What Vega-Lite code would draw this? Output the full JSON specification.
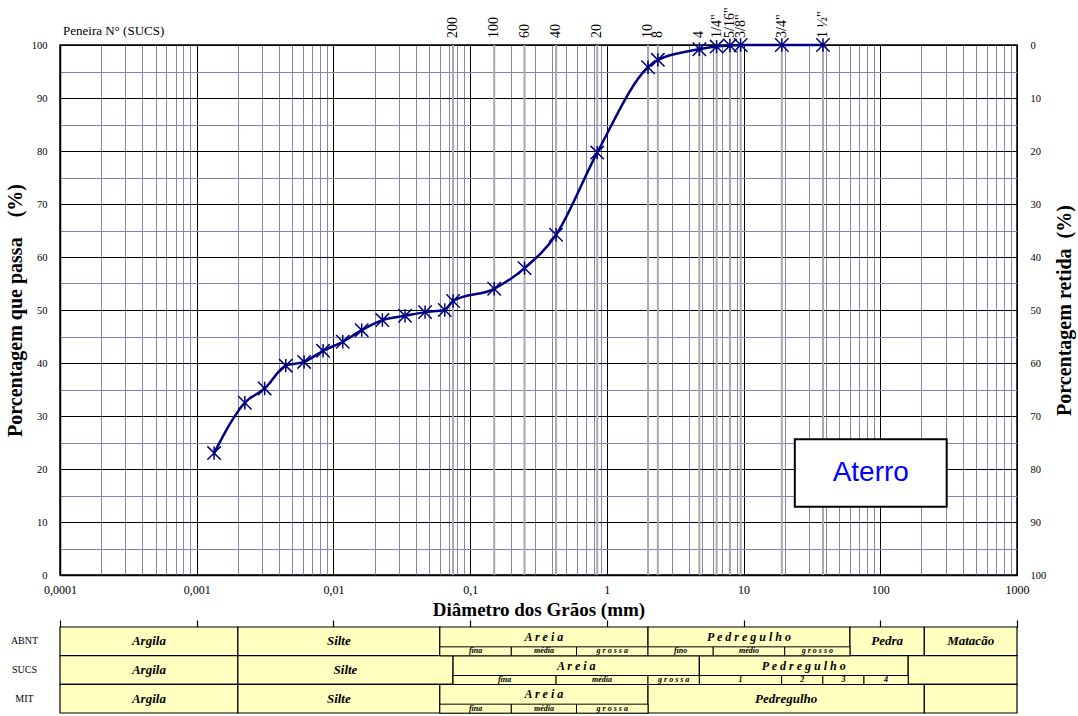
{
  "$schema": "https://vega.github.io/schema/vega-lite/v6.json",
  "background": "white",
  "padding": {"left": 4, "top": 6, "right": 2, "bottom": 2},
  "config": {
    "font": "Liberation Serif",
    "view": {"stroke": null},
    "axis": {"labelFont": "Liberation Serif", "titleFont": "Liberation Serif", "labelColor": "black", "titleColor": "black"}
  },
  "datasets": {
    "ensaio": [
      {"diametro_mm": 0.00134, "passa_pct": 23.0},
      {"diametro_mm": 0.00225, "passa_pct": 32.5},
      {"diametro_mm": 0.00314, "passa_pct": 35.2},
      {"diametro_mm": 0.00448, "passa_pct": 39.5},
      {"diametro_mm": 0.0061, "passa_pct": 40.2},
      {"diametro_mm": 0.0084, "passa_pct": 42.3},
      {"diametro_mm": 0.0117, "passa_pct": 44.0},
      {"diametro_mm": 0.0161, "passa_pct": 46.2},
      {"diametro_mm": 0.0228, "passa_pct": 48.1},
      {"diametro_mm": 0.0334, "passa_pct": 48.9},
      {"diametro_mm": 0.0468, "passa_pct": 49.6},
      {"diametro_mm": 0.0652, "passa_pct": 50.0},
      {"diametro_mm": 0.075, "passa_pct": 51.7},
      {"diametro_mm": 0.15, "passa_pct": 54.0},
      {"diametro_mm": 0.25, "passa_pct": 57.9},
      {"diametro_mm": 0.425, "passa_pct": 64.2},
      {"diametro_mm": 0.85, "passa_pct": 79.7},
      {"diametro_mm": 2.0, "passa_pct": 95.8},
      {"diametro_mm": 2.36, "passa_pct": 97.2},
      {"diametro_mm": 4.75, "passa_pct": 99.2},
      {"diametro_mm": 6.35, "passa_pct": 99.7},
      {"diametro_mm": 7.94, "passa_pct": 99.9},
      {"diametro_mm": 9.52, "passa_pct": 100},
      {"diametro_mm": 19.05, "passa_pct": 100},
      {"diametro_mm": 38.1, "passa_pct": 100}
    ],
    "peneiras": [
      {"peneira": "200", "abertura_mm": 0.075},
      {"peneira": "100", "abertura_mm": 0.15},
      {"peneira": "60", "abertura_mm": 0.25},
      {"peneira": "40", "abertura_mm": 0.425},
      {"peneira": "20", "abertura_mm": 0.85},
      {"peneira": "10", "abertura_mm": 2.0},
      {"peneira": "8", "abertura_mm": 2.36},
      {"peneira": "4", "abertura_mm": 4.75},
      {"peneira": "1/4\"", "abertura_mm": 6.35},
      {"peneira": "5/16\"", "abertura_mm": 7.94},
      {"peneira": "3/8\"", "abertura_mm": 9.52},
      {"peneira": "3/4\"", "abertura_mm": 19.05},
      {"peneira": "1 ½\"", "abertura_mm": 38.1}
    ],
    "classes": [
      {"sistema": "ABNT", "nivel": "classe", "nome": "Argila", "de": 0.0001, "ate": 0.002, "dividida": false},
      {"sistema": "ABNT", "nivel": "classe", "nome": "Silte", "de": 0.002, "ate": 0.06, "dividida": false},
      {"sistema": "ABNT", "nivel": "classe", "nome": "A r e i a", "de": 0.06, "ate": 2, "dividida": true},
      {"sistema": "ABNT", "nivel": "classe", "nome": "P e d r e g u l h o", "de": 2, "ate": 60, "dividida": true},
      {"sistema": "ABNT", "nivel": "classe", "nome": "Pedra", "de": 60, "ate": 210, "dividida": false},
      {"sistema": "ABNT", "nivel": "classe", "nome": "Matacão", "de": 210, "ate": 1000, "dividida": false},
      {"sistema": "ABNT", "nivel": "sub", "nome": "fina", "de": 0.06, "ate": 0.2},
      {"sistema": "ABNT", "nivel": "sub", "nome": "média", "de": 0.2, "ate": 0.6},
      {"sistema": "ABNT", "nivel": "sub", "nome": "g r o s s a", "de": 0.6, "ate": 2},
      {"sistema": "ABNT", "nivel": "sub", "nome": "fino", "de": 2, "ate": 6},
      {"sistema": "ABNT", "nivel": "sub", "nome": "médio", "de": 6, "ate": 20},
      {"sistema": "ABNT", "nivel": "sub", "nome": "g r o s s o", "de": 20, "ate": 60},
      {"sistema": "SUCS", "nivel": "classe", "nome": "Argila", "de": 0.0001, "ate": 0.002, "dividida": false},
      {"sistema": "SUCS", "nivel": "classe", "nome": "Silte", "de": 0.002, "ate": 0.075, "dividida": false},
      {"sistema": "SUCS", "nivel": "classe", "nome": "A r e i a", "de": 0.075, "ate": 4.75, "dividida": true},
      {"sistema": "SUCS", "nivel": "classe", "nome": "P e d r e g u l h o", "de": 4.75, "ate": 160, "dividida": true},
      {"sistema": "SUCS", "nivel": "classe", "nome": "", "de": 160, "ate": 1000, "dividida": false},
      {"sistema": "SUCS", "nivel": "sub", "nome": "fina", "de": 0.075, "ate": 0.425},
      {"sistema": "SUCS", "nivel": "sub", "nome": "média", "de": 0.425, "ate": 2},
      {"sistema": "SUCS", "nivel": "sub", "nome": "g r o s s a", "de": 2, "ate": 4.75},
      {"sistema": "SUCS", "nivel": "sub", "nome": "1", "de": 4.75, "ate": 19},
      {"sistema": "SUCS", "nivel": "sub", "nome": "2", "de": 19, "ate": 38},
      {"sistema": "SUCS", "nivel": "sub", "nome": "3", "de": 38, "ate": 76},
      {"sistema": "SUCS", "nivel": "sub", "nome": "4", "de": 76, "ate": 160},
      {"sistema": "MIT", "nivel": "classe", "nome": "Argila", "de": 0.0001, "ate": 0.002, "dividida": false},
      {"sistema": "MIT", "nivel": "classe", "nome": "Silte", "de": 0.002, "ate": 0.06, "dividida": false},
      {"sistema": "MIT", "nivel": "classe", "nome": "A r e i a", "de": 0.06, "ate": 2, "dividida": true},
      {"sistema": "MIT", "nivel": "classe", "nome": "Pedregulho", "de": 2, "ate": 210, "dividida": false},
      {"sistema": "MIT", "nivel": "classe", "nome": "", "de": 210, "ate": 1000, "dividida": false},
      {"sistema": "MIT", "nivel": "sub", "nome": "fina", "de": 0.06, "ate": 0.2},
      {"sistema": "MIT", "nivel": "sub", "nome": "média", "de": 0.2, "ate": 0.6},
      {"sistema": "MIT", "nivel": "sub", "nome": "g r o s s a", "de": 0.6, "ate": 2}
    ]
  },
  "bounds": "flush",
  "spacing": 52,
  "resolve": {"scale": {"x": "independent", "y": "independent"}},
  "vconcat": [
    {
      "width": 957,
      "height": 530,
      "view": {"stroke": "black", "strokeWidth": 1.5},
      "resolve": {"scale": {"y": "independent"}},
      "layer": [
        {
          "data": {"name": "peneiras"},
          "mark": {"type": "rule", "color": "#a9a9a9", "strokeWidth": 2},
          "encoding": {
            "x": {
              "field": "abertura_mm", "type": "quantitative",
              "scale": {"type": "log", "domain": [0.0001, 1000], "nice": false},
              "axis": {
                "orient": "bottom",
                "title": "Diâmetro dos Grãos (mm)",
                "titleFontSize": 19, "titleFontWeight": "bold", "titlePadding": 5,
                "values": [0.0001, 0.0002, 0.0003, 0.0004, 0.0005, 0.0006, 0.0007, 0.0008, 0.0009,
                           0.001, 0.002, 0.003, 0.004, 0.005, 0.006, 0.007, 0.008, 0.009,
                           0.01, 0.02, 0.03, 0.04, 0.05, 0.06, 0.07, 0.08, 0.09,
                           0.1, 0.2, 0.3, 0.4, 0.5, 0.6, 0.7, 0.8, 0.9,
                           1, 2, 3, 4, 5, 6, 7, 8, 9,
                           10, 20, 30, 40, 50, 60, 70, 80, 90,
                           100, 200, 300, 400, 500, 600, 700, 800, 900, 1000],
                "labelExpr": "indexof([0.0001, 0.001, 0.01, 0.1, 1, 10, 100, 1000], datum.value) >= 0 ? replace(toString(datum.value), '.', ',') : ''",
                "labelOverlap": false, "labelFlush": false,
                "labelFontSize": 12, "labelPadding": 9,
                "ticks": false, "tickSize": 0,
                "domain": true, "domainColor": "black", "domainWidth": 1.5,
                "grid": true, "gridWidth": 1,
                "gridColor": {"condition": {"test": "indexof([0.0001, 0.001, 0.01, 0.1, 1, 10, 100, 1000], datum.value) >= 0", "value": "#000000"}, "value": "#8585b8"}
              }
            }
          }
        },
        {
          "data": {"name": "ensaio"},
          "mark": {"type": "line", "color": "#000080", "strokeWidth": 2.5, "interpolate": "monotone"},
          "encoding": {
            "x": {"field": "diametro_mm", "type": "quantitative"},
            "y": {
              "field": "passa_pct", "type": "quantitative",
              "scale": {"domain": [0, 100], "nice": false},
              "axis": {
                "orient": "left",
                "title": "Porcentagem que passa\u00a0\u00a0\u00a0\u00a0(%)",
                "titleFontSize": 20, "titleFontWeight": "bold", "titlePadding": 6,
                "values": [0, 5, 10, 15, 20, 25, 30, 35, 40, 45, 50, 55, 60, 65, 70, 75, 80, 85, 90, 95, 100],
                "labelExpr": "datum.value % 10 === 0 ? datum.label : ''",
                "labelFontSize": 10.5, "labelPadding": 13,
                "ticks": false, "tickSize": 0,
                "domain": true, "domainColor": "black", "domainWidth": 1.5,
                "grid": true, "gridWidth": 1,
                "gridColor": {"condition": {"test": "datum.value % 10 === 0", "value": "#000000"}, "value": "#8585b8"}
              }
            }
          }
        },
        {
          "data": {"name": "ensaio"},
          "mark": {"type": "point", "shape": "M-1,-1L1,1M1,-1L-1,1M0,-1L0,1", "filled": false, "stroke": "#000080", "strokeWidth": 1.5, "size": 180, "opacity": 1},
          "encoding": {
            "x": {"field": "diametro_mm", "type": "quantitative"},
            "y": {"field": "passa_pct", "type": "quantitative", "scale": {"domain": [0, 100], "nice": false}, "axis": null}
          }
        },
        {
          "data": {"name": "peneiras"},
          "mark": {"type": "text", "angle": 270, "align": "left", "baseline": "middle", "dx": 7, "fontSize": 14, "font": "Liberation Serif", "color": "black"},
          "encoding": {
            "x": {"field": "abertura_mm", "type": "quantitative"},
            "y": {"datum": 100, "type": "quantitative", "scale": {"domain": [0, 100], "nice": false}, "axis": null},
            "text": {"field": "peneira"}
          }
        },
        {
          "data": {"values": [{}]},
          "mark": {"type": "text", "text": "Peneira N° (SUCS)", "align": "left", "baseline": "alphabetic", "dx": 3, "dy": -10, "fontSize": 13, "font": "Liberation Serif", "color": "black"},
          "encoding": {
            "x": {"datum": 0.0001, "type": "quantitative"},
            "y": {"datum": 100, "type": "quantitative", "scale": {"domain": [0, 100], "nice": false}, "axis": null}
          }
        },
        {
          "data": {"values": [{}]},
          "mark": {"type": "rect", "fill": "white", "stroke": "black", "strokeWidth": 2},
          "encoding": {
            "x": {"datum": 23.7, "type": "quantitative"},
            "x2": {"datum": 306},
            "y": {"datum": 25.6, "type": "quantitative", "scale": {"domain": [0, 100], "nice": false}, "axis": null},
            "y2": {"datum": 12.9}
          }
        },
        {
          "data": {"values": [{}]},
          "mark": {"type": "text", "text": "Aterro", "align": "center", "baseline": "middle", "fontSize": 28, "font": "Liberation Sans", "color": "#0000ff"},
          "encoding": {
            "x": {"datum": 85.2, "type": "quantitative"},
            "y": {"datum": 19.2, "type": "quantitative", "scale": {"domain": [0, 100], "nice": false}, "axis": null}
          }
        },
        {
          "data": {"values": [{}]},
          "mark": {"type": "rule", "opacity": 0},
          "encoding": {
            "y": {
              "datum": 0, "type": "quantitative",
              "scale": {"domain": [0, 100], "reverse": true, "nice": false},
              "axis": {
                "orient": "right",
                "title": "Porcentagem retida\u00a0\u00a0(%)",
                "titleAngle": 270,
                "titleBaseline": "top",
                "titleFontSize": 20, "titleFontWeight": "bold", "titlePadding": 9,
                "values": [0, 10, 20, 30, 40, 50, 60, 70, 80, 90, 100],
                "labelFontSize": 10.5, "labelPadding": 13,
                "ticks": false, "tickSize": 0, "domain": false, "grid": false
              }
            }
          }
        }
      ]
    },
    {
      "width": 957,
      "height": 86,
      "data": {"name": "classes"},
      "transform": [{"calculate": "sqrt(datum.de * datum.ate)", "as": "centro"}],
      "layer": [
        {
          "transform": [{"filter": "datum.nivel === 'classe'"}],
          "mark": {"type": "bar", "fill": "#ffffc0", "stroke": "black", "strokeWidth": 1.2},
          "encoding": {
            "x": {
              "field": "de", "type": "quantitative",
              "scale": {"type": "log", "domain": [0.0001, 1000], "nice": false},
              "axis": {"orient": "top", "values": [0.0001, 0.001, 0.01, 0.1, 1, 10, 100, 1000], "labels": false, "domain": false, "grid": false, "ticks": true, "tickSize": 7, "tickColor": "black", "tickWidth": 1.2, "title": null}
            },
            "x2": {"field": "ate"},
            "y": {
              "field": "sistema", "type": "nominal", "sort": ["ABNT", "SUCS", "MIT"],
              "scale": {"paddingInner": 0, "paddingOuter": 0},
              "axis": {"title": null, "ticks": false, "domain": false, "labelFontSize": 10, "labelAlign": "center", "labelPadding": 36}
            }
          }
        },
        {
          "transform": [{"filter": "datum.nivel === 'sub'"}],
          "mark": {"type": "bar", "fill": "#ffffc0", "stroke": "black", "strokeWidth": 1, "height": 9, "yOffset": 10},
          "encoding": {
            "x": {"field": "de", "type": "quantitative"},
            "x2": {"field": "ate"},
            "y": {"field": "sistema", "type": "nominal", "sort": ["ABNT", "SUCS", "MIT"]}
          }
        },
        {
          "transform": [{"filter": "datum.nivel === 'classe' && !datum.dividida"}],
          "mark": {"type": "text", "font": "Liberation Serif", "fontSize": 13, "fontWeight": "bold", "fontStyle": "italic", "color": "black", "baseline": "middle"},
          "encoding": {
            "x": {"field": "centro", "type": "quantitative"},
            "y": {"field": "sistema", "type": "nominal", "sort": ["ABNT", "SUCS", "MIT"]},
            "text": {"field": "nome"}
          }
        },
        {
          "transform": [{"filter": "datum.nivel === 'classe' && datum.dividida"}],
          "mark": {"type": "text", "font": "Liberation Serif", "fontSize": 12, "fontWeight": "bold", "fontStyle": "italic", "color": "black", "baseline": "middle", "yOffset": -4.5},
          "encoding": {
            "x": {"field": "centro", "type": "quantitative"},
            "y": {"field": "sistema", "type": "nominal", "sort": ["ABNT", "SUCS", "MIT"]},
            "text": {"field": "nome"}
          }
        },
        {
          "transform": [{"filter": "datum.nivel === 'sub'"}],
          "mark": {"type": "text", "font": "Liberation Serif", "fontSize": 8, "fontWeight": "bold", "fontStyle": "italic", "color": "black", "baseline": "middle", "yOffset": 10},
          "encoding": {
            "x": {"field": "centro", "type": "quantitative"},
            "y": {"field": "sistema", "type": "nominal", "sort": ["ABNT", "SUCS", "MIT"]},
            "text": {"field": "nome"}
          }
        }
      ]
    }
  ]
}
